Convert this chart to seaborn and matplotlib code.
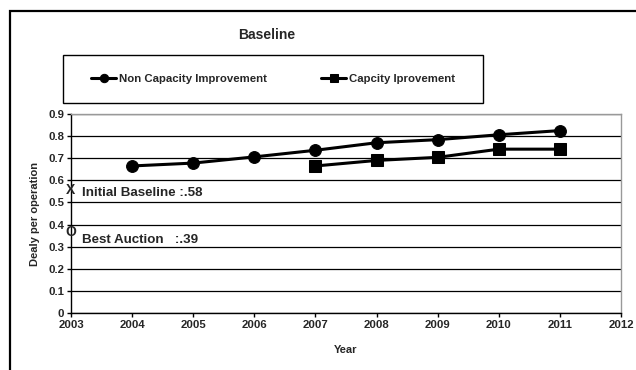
import matplotlib
matplotlib.use("Agg")
import matplotlib.pyplot as plt
from matplotlib.patches import Rectangle
import seaborn as sns
import pandas as pd

# Series values
years_non_cap = [2004, 2005, 2006, 2007, 2008, 2009, 2010, 2011]
delay_non_cap = [0.665, 0.678, 0.706, 0.736, 0.770, 0.784, 0.806, 0.825]
years_cap = [2007, 2008, 2009, 2010, 2011]
delay_cap = [0.665, 0.690, 0.704, 0.741, 0.741]

series_names = ["Non Capacity Improvement", "Capcity Iprovement"]
initial_baseline = 0.58
best_auction = 0.39

x_ticks = list(range(2003, 2013))
y_ticks = [round(0.1 * i, 1) for i in range(10)]

sns.set_theme(style="white")
plt.rcParams["font.family"] = ["Liberation Sans", "DejaVu Sans"]
plt.rcParams["font.weight"] = "bold"

fig = plt.figure(figsize=(6.36, 3.70), dpi=100)
ax = fig.add_axes([71 / 636, 1 - 313 / 370, 550 / 636, 199 / 370])

df_non = pd.DataFrame({"Year": years_non_cap, "Delay": delay_non_cap})
df_cap = pd.DataFrame({"Year": years_cap, "Delay": delay_cap})

sns.lineplot(data=df_non, x="Year", y="Delay", ax=ax, color="black",
             linewidth=2.2, marker="o", markersize=8.5, markeredgecolor="black",
             label=series_names[0], legend=False)
sns.lineplot(data=df_cap, x="Year", y="Delay", ax=ax, color="black",
             linewidth=2.2, marker="s", markersize=8.5, markeredgecolor="black",
             label=series_names[1], legend=False)

ax.set_xlim(2003, 2012)
ax.set_ylim(0, 0.9)
ax.set_xticks(x_ticks)
ax.set_xticklabels([str(t) for t in x_ticks], fontsize=8.2, fontweight="bold")
ax.set_yticks(y_ticks)
ax.set_yticklabels([f"{t:g}" for t in y_ticks], fontsize=8.2, fontweight="bold")
ax.tick_params(axis="both", direction="out", length=3, width=1, color="black",
               pad=2, bottom=True, left=True)

ax.grid(axis="y", color="black", linewidth=0.9)
ax.set_axisbelow(True)
for side in ("left", "bottom"):
    ax.spines[side].set_color("black")
    ax.spines[side].set_linewidth(1.0)
for side in ("right", "top"):
    ax.spines[side].set_color("#999999")
    ax.spines[side].set_linewidth(1.0)

ax.set_xlabel("Year", fontsize=8, fontweight="bold", labelpad=11)
ax.set_ylabel("Dealy per operation", fontsize=8, fontweight="bold", labelpad=6)

# Reference markers and annotations at the left edge
ax.text(2003, initial_baseline - 0.022, "X", fontsize=10, fontweight="bold",
        ha="center", va="center", clip_on=False)
ax.text(2003.18, initial_baseline - 0.038, "Initial Baseline :" + f"{initial_baseline:.2f}"[1:],
        fontsize=9.6, fontweight="bold", ha="left", va="center")
ax.text(2003, best_auction - 0.022, "O", fontsize=10, fontweight="bold",
        ha="center", va="center", clip_on=False)
ax.text(2003.18, best_auction - 0.058, "Best Auction   :" + f"{best_auction:.2f}"[1:],
        fontsize=9.6, fontweight="bold", ha="left", va="center")

fig.suptitle("Baseline", x=267 / 636, y=1 - 35 / 370, fontsize=10,
             fontweight="bold", va="center")

# Outer chart frame (extends past the right and bottom image edges)
fig.patches.append(Rectangle((10 / 636, -0.1), 1.2, 1.1 - 11 / 370,
                             transform=fig.transFigure, fill=False,
                             edgecolor="black", linewidth=1.6))

# Legend box
fig.patches.append(Rectangle((63 / 636, 1 - 103 / 370), 420 / 636, 48 / 370,
                             transform=fig.transFigure, fill=False,
                             edgecolor="black", linewidth=1.0))
handles, labels = ax.get_legend_handles_labels()
leg = fig.legend(handles, labels, loc="center left", ncol=2,
                 bbox_to_anchor=(91 / 636, 1 - 79 / 370), frameon=False,
                 prop={"size": 8.2, "weight": "bold"}, handlelength=2.2,
                 handletextpad=0.3, columnspacing=4.7, borderaxespad=0,
                 borderpad=0)
for h in leg.legend_handles:
    h.set_markersize(6)

fig.savefig("out.png", dpi=100)
